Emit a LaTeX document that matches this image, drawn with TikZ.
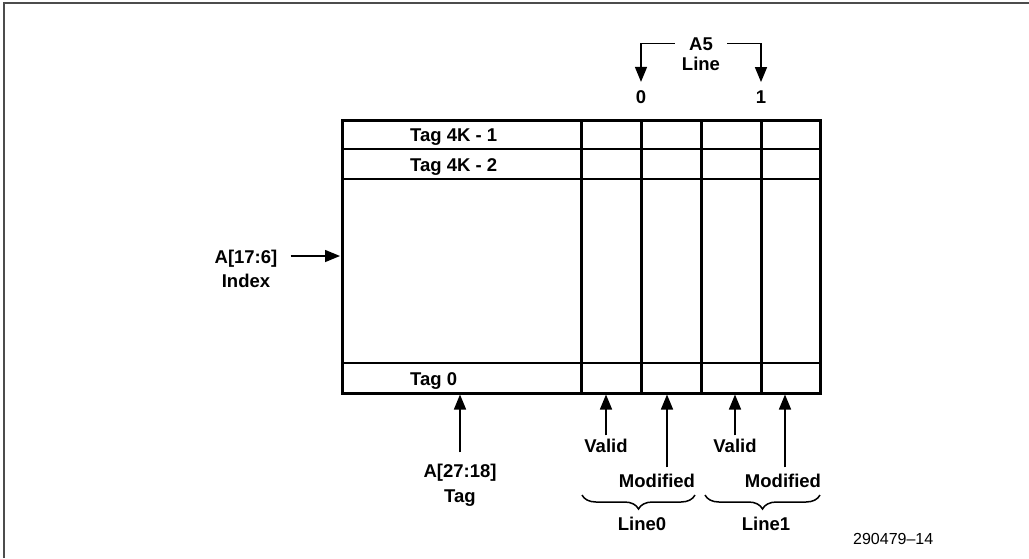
\documentclass[tikz,border=0pt]{standalone}
\usepackage{fontspec}
\setmainfont{Liberation Sans}
\usetikzlibrary{arrows.meta,decorations.pathreplacing}
\begin{document}
\begin{tikzpicture}
[
x=1pt,y=-1pt,
font=\fontsize{18.5}{22}\selectfont\bfseries,
lbl/.style={inner sep=0pt,anchor=base},
arr/.style={line width=1.5pt,-{Triangle[length=15pt,width=12pt]}},
heavy/.style={line width=3pt},
light/.style={line width=1.3pt},
brc/.style={line width=1.5pt,decorate,decoration={brace,amplitude=14pt}}
]
\useasboundingbox (0,0) rectangle (1029,558);
\draw[line width=2pt,black!70] (4,558) -- (4,3) -- (1029,3);

% the tag array
\coordinate (nw) at (342,120);
\coordinate (se) at (820,393);
\draw[light] (342,149) -- (820,149);
\draw[light] (342,179) -- (820,179);
\draw[light] (342,363) -- (820,363);
\foreach \x in {581,641,701,761}
  \draw[heavy] (\x,120) -- (\x,393);
\draw[heavy] (nw) rectangle (se);

\node[lbl,anchor=base west] (tagtop) at (410,141) {Tag 4K - 1};
\node[lbl,anchor=base west] (tagnext) at (410,171) {Tag 4K - 2};
\node[lbl,anchor=base west] (tagzero) at (410,385) {Tag 0};

% index input
\node[lbl] (idxa) at (246,263) {A[17:6]};
\node[lbl] (idxb) at (246,287) {Index};
\coordinate (idxin) at (340,256);
\draw[arr] ([xshift=13pt]idxa.east |- idxin) -- (idxin);

% line select
\node[lbl] (asel) at (701,50) {A5};
\node[lbl] (aline) at (701,70) {Line};
\node[lbl] (zero) at (641,103) {0};
\node[lbl] (one) at (761,103) {1};
\draw[arr] ([xshift=-14pt]asel.west) -| ([yshift=8pt]zero.north);
\draw[arr] ([xshift=14pt]asel.east) -| ([yshift=8pt]one.north);

% tag input
\node[lbl] (tagaddr) at (460,477) {A[27:18]};
\node[lbl] (tagname) at (460,502) {Tag};
\draw[arr,shorten >=1.5pt] ([yshift=11pt]tagaddr.north) -- (tagaddr.north |- se);

% status bits
\node[lbl] (valid0) at (606,452) {Valid};
\node[lbl] (mod0) at (657,487) {Modified};
\node[lbl] (valid1) at (735,452) {Valid};
\node[lbl] (mod1) at (783,487) {Modified};
\draw[arr,shorten >=1.5pt] ([yshift=3pt]valid0.north) -- (valid0.north |- se);
\draw[arr,shorten >=1.5pt] ([xshift=10pt,yshift=6pt]mod0.north) -- ([xshift=10pt]mod0.north |- se);
\draw[arr,shorten >=1.5pt] ([yshift=3pt]valid1.north) -- (valid1.north |- se);
\draw[arr,shorten >=1.5pt] ([xshift=2pt,yshift=6pt]mod1.north) -- ([xshift=2pt]mod1.north |- se);

\draw[brc] (695,495) -- (582,495);
\draw[brc] (820,495) -- (705,495);
\node[lbl] (line0) at (642,530) {Line0};
\node[lbl] (line1) at (766,530) {Line1};

\node[lbl,anchor=base west,font=\fontsize{16}{18}\selectfont\mdseries] (fig) at (853,544) {290479--14};
\end{tikzpicture}
\end{document}
